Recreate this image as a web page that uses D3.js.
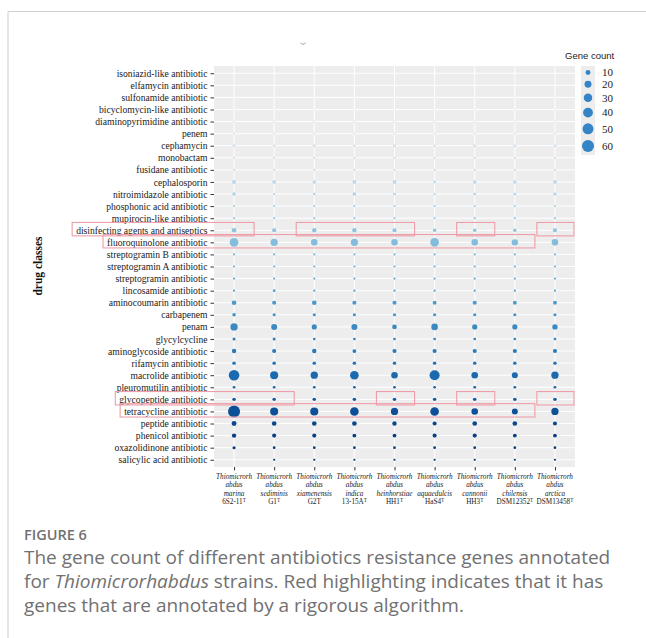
<!DOCTYPE html>
<html>
<head>
<meta charset="utf-8">
<script src="https://d3js.org/d3.v7.min.js"></script>
<style>
  body { margin: 0; background: #fff; }
  svg { display: block; }
  .caption { font-family: "Open Sans", sans-serif; fill: #717171; }
</style>
</head>
<body>
<div id="chart"></div>
<script>
// drug classes, top to bottom
const drugClasses = [
  "isoniazid-like antibiotic", "elfamycin antibiotic", "sulfonamide antibiotic",
  "bicyclomycin-like antibiotic", "diaminopyrimidine antibiotic", "penem",
  "cephamycin", "monobactam", "fusidane antibiotic", "cephalosporin",
  "nitroimidazole antibiotic", "phosphonic acid antibiotic", "mupirocin-like antibiotic",
  "disinfecting agents and antiseptics", "fluoroquinolone antibiotic",
  "streptogramin B antibiotic", "streptogramin A antibiotic", "streptogramin antibiotic",
  "lincosamide antibiotic", "aminocoumarin antibiotic", "carbapenem", "penam",
  "glycylcycline", "aminoglycoside antibiotic", "rifamycin antibiotic",
  "macrolide antibiotic", "pleuromutilin antibiotic", "glycopeptide antibiotic",
  "tetracycline antibiotic", "peptide antibiotic", "phenicol antibiotic",
  "oxazolidinone antibiotic", "salicylic acid antibiotic"
];

const strainSpecies = ["marina", "sediminis", "xiamenensis", "indica", "heinhorstiae",
  "aquaedulcis", "cannonii", "chilensis", "arctica"];
const strainIds = ["6S2-11", "G1", "G2T", "13-15A", "HH1", "HaS4", "HH3", "DSM12352", "DSM13458"];
const strainSup = ["T", "T", "", "T", "T", "T", "T", "T", "T"];

// gene counts per strain, same order as drugClasses
const marina       = [1,1,1,1,2,2,4,2,2,7,5,2,2,9,31,2,2,2,2,9,5,22,4,8,5,47,3,5,60,10,8,4,0];
const sediminis    = [1,1,1,1,2,2,3,2,2,6,2,2,2,7,22,2,2,2,3,7,4,15,4,7,5,27,3,5,27,9,7,3,2];
const xiamenensis  = [1,1,1,1,2,2,4,2,2,5,3,2,2,8,18,2,2,2,2,9,4,11,3,8,5,22,3,5,27,9,7,3,2];
const indica       = [1,1,1,1,2,2,3,2,2,6,5,2,2,8,22,2,2,2,2,7,4,15,3,6,5,31,3,5,31,9,6,3,2];
const heinhorstiae = [1,1,1,1,2,2,4,2,2,6,3,2,2,7,18,2,2,2,2,7,4,9,3,7,5,18,3,5,22,8,6,3,2];
const aquaedulcis  = [1,1,1,1,2,2,3,2,2,3,2,2,2,5,31,2,2,2,2,6,4,18,3,7,5,42,3,5,31,7,7,3,2];
const cannonii     = [1,1,1,1,2,2,4,2,2,5,3,2,2,5,18,2,2,2,2,7,4,11,3,7,5,18,3,5,18,9,7,3,2];
const chilensis    = [1,1,1,1,2,2,4,2,2,5,3,2,2,5,17,2,2,2,2,6,4,11,3,7,5,15,3,5,15,9,6,3,2];
const arctica      = [1,1,1,1,2,2,4,2,2,6,4,2,2,7,18,2,2,2,2,6,4,12,3,7,5,22,3,5,22,7,6,3,2];
const countsByStrain = [marina, sediminis, xiamenensis, indica, heinhorstiae,
  aquaedulcis, cannonii, chilensis, arctica];

const legendCounts = [10, 20, 30, 40, 50, 60];

// red highlight boxes: row + column spans (strain index from..to)
const highlightRows = ["disinfecting agents and antiseptics", "fluoroquinolone antibiotic",
  "glycopeptide antibiotic", "tetracycline antibiotic"];
const highlightSpans = [
  [[0,0],[2,4],[6,6],[8,8]],
  [[0,7]],
  [[0,1],[4,4],[6,6],[8,8]],
  [[0,7]]
];

const W = 646, H = 638;
const panel = {left: 214, right: 575, top: 66, bottom: 467};

const svg = d3.select("#chart").append("svg")
  .attr("width", W).attr("height", H);

// frame
svg.append("path")
  .attr("d", `M8,${H} V11.5 H${W}`)
  .attr("fill", "none").attr("stroke", "#cfcfcf").attr("stroke-width", 1);

// small leftover glyph at top
svg.append("path")
  .attr("d", "M300.5,43 Q303,46 305.5,43")
  .attr("fill", "none").attr("stroke", "#9a9a9a").attr("stroke-width", 0.9);

const x = d3.scalePoint().domain(strainSpecies)
  .range([panel.left, panel.right]).padding(0.5);
const y = d3.scalePoint().domain(drugClasses)
  .range([panel.top, panel.bottom]).padding(0.6);
const size = d3.scaleSqrt().domain([0, 60]).range([0, 6]);
const color = d3.scaleSequential(d3.interpolateBlues).domain([0, drugClasses.length - 1]);

// panel background + grid
svg.append("rect")
  .attr("x", panel.left).attr("y", panel.top)
  .attr("width", panel.right - panel.left).attr("height", panel.bottom - panel.top)
  .attr("fill", "#ededed");

svg.append("g").selectAll("line.h")
  .data(drugClasses).join("line")
  .attr("x1", panel.left).attr("x2", panel.right)
  .attr("y1", d => y(d)).attr("y2", d => y(d))
  .attr("stroke", "#fff").attr("stroke-width", 1);
svg.append("g").selectAll("line.v")
  .data(strainSpecies).join("line")
  .attr("y1", panel.top).attr("y2", panel.bottom)
  .attr("x1", d => x(d)).attr("x2", d => x(d))
  .attr("stroke", "#fff").attr("stroke-width", 1);

// y axis
const yAxis = svg.append("g")
  .attr("transform", `translate(${panel.left},0)`)
  .call(d3.axisLeft(y).tickSize(3.5).tickPadding(3));
yAxis.select(".domain").remove();
yAxis.selectAll(".tick line").attr("stroke", "#333");
yAxis.selectAll(".tick text")
  .attr("font-family", "'Liberation Serif', serif")
  .attr("font-size", 9.6).attr("fill", "#1a1a1a");

// x axis
const xAxis = svg.append("g")
  .attr("transform", `translate(0,${panel.bottom})`)
  .call(d3.axisBottom(x).tickSize(3.5).tickFormat(""));
xAxis.select(".domain").remove();
xAxis.selectAll(".tick line").attr("stroke", "#333");

const xl = svg.append("g")
  .attr("font-family", "'Liberation Serif', serif")
  .attr("font-size", 7.2).attr("fill", "#1a1a1a")
  .attr("text-anchor", "middle");
strainSpecies.forEach((sp, i) => {
  const cx = x(sp);
  const lines = ["Thiomicrorh", "abdus", sp];
  lines.forEach((l, k) => {
    xl.append("text").attr("x", cx).attr("y", 478.8 + k * 8.5)
      .attr("font-style", "italic").text(l);
  });
  const t = xl.append("text").attr("x", cx).attr("y", 478.8 + 3 * 8.5);
  t.append("tspan").text(strainIds[i]);
  if (strainSup[i]) {
    t.append("tspan").attr("dy", -2.6).attr("font-size", 5.2).text(strainSup[i]);
  }
});

// y title
svg.append("text")
  .attr("transform", `translate(42,266) rotate(-90)`)
  .attr("text-anchor", "middle")
  .attr("font-family", "'Liberation Serif', serif")
  .attr("font-weight", "bold").attr("font-size", 11.5).attr("fill", "#111")
  .text("drug classes");

// dots
const cells = [];
countsByStrain.forEach((arr, i) => {
  arr.forEach((v, j) => {
    if (v > 0) cells.push({strain: strainSpecies[i], cls: drugClasses[j], row: j, v: v});
  });
});
svg.append("g").selectAll("circle")
  .data(cells).join("circle")
  .attr("cx", d => x(d.strain))
  .attr("cy", d => y(d.cls))
  .attr("r", d => size(d.v))
  .attr("fill", d => color(d.row));

// highlight boxes
const step = x.step();
const hl = svg.append("g").attr("fill", "none")
  .attr("stroke", "#ee9ea8").attr("stroke-width", 1.1);
highlightRows.forEach((row, r) => {
  const label = yAxis.selectAll(".tick").filter(d => d === row).select("text").node();
  const textLeft = panel.left - 6.5 - label.getComputedTextLength();
  highlightSpans[r].forEach(([a, b]) => {
    const x0 = a === 0 ? textLeft - 4 : x(strainSpecies[a]) - step / 2 + 2;
    const x1 = x(strainSpecies[b]) + step / 2 - (b === 8 ? 1 : 0);
    hl.append("rect")
      .attr("x", x0).attr("y", y(row) - 7.8)
      .attr("width", x1 - x0).attr("height", 13.4);
  });
});

// legend
const lg = svg.append("g");
lg.append("text")
  .attr("x", 565).attr("y", 58.5)
  .attr("font-family", "'Liberation Sans', sans-serif")
  .attr("font-size", 9.5).attr("fill", "#222")
  .text("Gene count");
let ky = 67 + 3;
const keyY = legendCounts.map((v, i) => {
  if (i > 0) ky += size(legendCounts[i - 1]) + size(v) + 5.8;
  else ky += size(v);
  return ky;
});
lg.append("rect")
  .attr("x", 581).attr("y", 66)
  .attr("width", 14).attr("height", 89)
  .attr("fill", "#ededed");
lg.selectAll("circle").data(legendCounts).join("circle")
  .attr("cx", 588).attr("cy", (d, i) => keyY[i])
  .attr("r", d => size(d)).attr("fill", "#3584c6");
lg.selectAll("text.lab").data(legendCounts).join("text")
  .attr("class", "lab")
  .attr("x", 602).attr("y", (d, i) => keyY[i])
  .attr("dy", "0.35em")
  .attr("font-family", "'Liberation Serif', serif")
  .attr("font-size", 11).attr("fill", "#1a1a1a")
  .text(d => d);

// caption
const capX = 24;
svg.append("text").attr("class", "caption")
  .attr("x", capX).attr("y", 539.5)
  .attr("font-size", 14.5).attr("font-weight", 600).attr("fill", "#7a7a7a")
  .text("FIGURE 6");
const cap = svg.append("text").attr("class", "caption").attr("font-size", 19);
cap.append("tspan").attr("x", capX).attr("y", 563.5)
  .text("The gene count of different antibiotics resistance genes annotated");
const l2 = cap.append("tspan").attr("x", capX).attr("y", 587.5);
l2.text("for ");
cap.append("tspan").attr("font-style", "italic").text("Thiomicrorhabdus");
cap.append("tspan").text(" strains. Red highlighting indicates that it has");
cap.append("tspan").attr("x", capX).attr("y", 611.5)
  .text("genes that are annotated by a rigorous algorithm.");
</script>
</body>
</html>
